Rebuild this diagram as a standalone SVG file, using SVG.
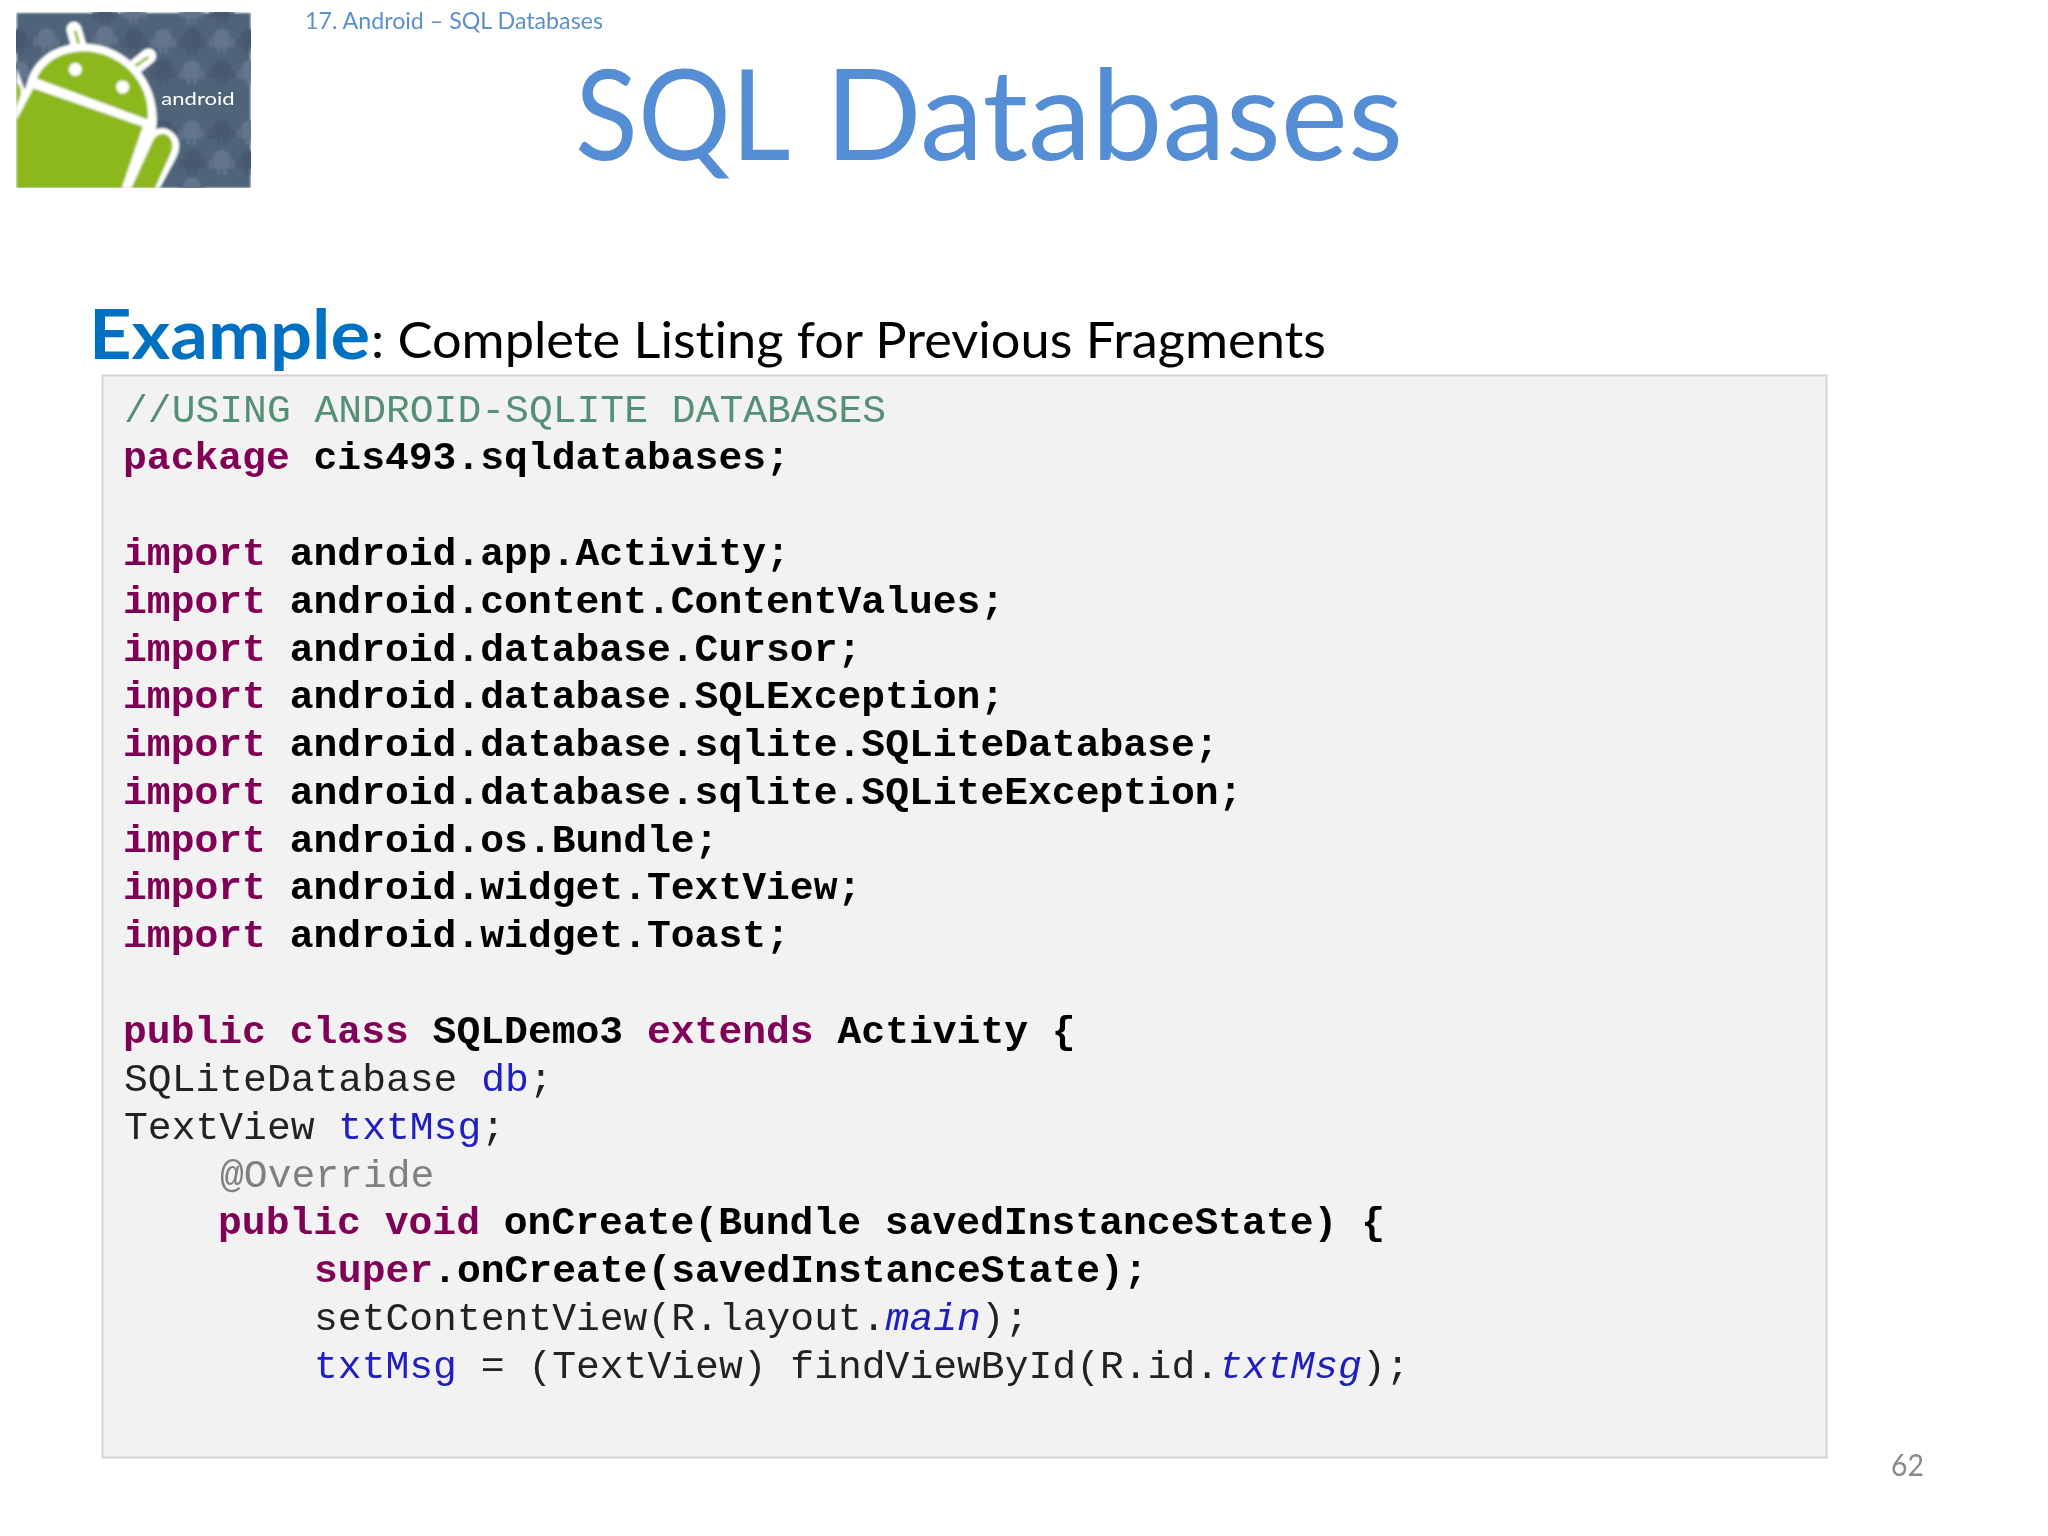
<svg xmlns="http://www.w3.org/2000/svg" width="2048" height="1536" viewBox="0 0 2048 1536">
<style>
text{white-space:pre;font-variant-ligatures:none}
.c{font-family:"Liberation Mono","Courier New",monospace;font-size:39.7px;fill:#222}
.b{font-weight:bold;fill:#000}
.k{font-weight:bold;fill:#7f0055}
.f{fill:#2020c0}
.i{font-style:italic;fill:#2020c0}
.cm{fill:#558f76}
.an{fill:#808080}
.cal{font-family:Lato,"Liberation Sans",sans-serif}
</style>
<defs>
<clipPath id="lc"><rect x="50" y="38" width="702" height="525"/></clipPath>
<g id="g"><path d="M-26 -6A26 26 0 0 1 26 -6V24H14V42H4V24H-4V42H-14V24H-26Z"/><rect x="-37" y="-4" width="8" height="28" rx="4"/><rect x="29" y="-4" width="8" height="28" rx="4"/></g>
<filter id="bl"><feGaussianBlur stdDeviation="2.4"/></filter>
</defs>
<rect width="2048" height="1536" fill="#fff"/>
<g id="logo" transform="scale(.33333)">
<g clip-path="url(#lc)" filter="url(#bl)">
<rect x="50" y="38" width="702" height="525" fill="#506379"/>
<g fill="#63758c">
<use href="#g" x="140" y="115"/><use href="#g" x="315" y="110"/><use href="#g" x="490" y="118"/><use href="#g" x="665" y="118"/><use href="#g" x="575" y="212"/><use href="#g" x="750" y="212"/><use href="#g" x="575" y="392"/><use href="#g" x="750" y="392"/><use href="#g" x="665" y="482"/><use href="#g" x="575" y="565"/><use href="#g" x="400" y="30"/><use href="#g" x="575" y="30"/><use href="#g" x="60" y="215"/>
</g>
<g fill="#46586f">
<use href="#g" x="55" y="118"/><use href="#g" x="402" y="118"/><use href="#g" x="577" y="118"/><use href="#g" x="750" y="118"/><use href="#g" x="490" y="212"/><use href="#g" x="665" y="212"/><use href="#g" x="665" y="392"/><use href="#g" x="577" y="482"/><use href="#g" x="750" y="482"/><use href="#g" x="490" y="392"/><use href="#g" x="315" y="30"/><use href="#g" x="665" y="30"/>
</g>
<path d="M50 205L85 300L50 345Z" fill="#fff"/>
<path d="M50 250C60 255 66 270 60 290L50 320Z" fill="#8db81f"/>
<path d="M240 150L222 88" stroke="#fff" stroke-width="46" stroke-linecap="round"/>
<path d="M400 205L446 168" stroke="#fff" stroke-width="46" stroke-linecap="round"/>
<path d="M242 152L226 95" stroke="#8db81f" stroke-width="8" stroke-linecap="round"/>
<path d="M392 208L442 173" stroke="#8db81f" stroke-width="8" stroke-linecap="round"/>
<path d="M82 245C108 160 190 122 275 132C375 142 478 235 470 375L440 563H50V340Z" fill="#fff"/>
<path d="M110 235C140 175 200 150 270 155C360 165 450 240 443 358Z" fill="#8db81f"/>
<path d="M100 265L428 380L365 563H50V360Z" fill="#8db81f"/>
<circle cx="226" cy="208" r="20" fill="#fff"/><circle cx="368" cy="261" r="20" fill="#fff"/>
<path d="M365 563L445 410C465 375 505 375 530 410C545 435 535 460 525 480L480 563Z" fill="#fff"/>
<path d="M395 563L460 420C475 395 505 395 515 425C520 440 515 455 505 475L465 563Z" fill="#8db81f"/>
</g>
<text id="logo-text" x="484" y="315" font-family="Lato,sans-serif" font-size="50" fill="#fff" textLength="220" lengthAdjust="spacingAndGlyphs">android</text>
</g>
<g id="header">
<text x="305" y="29" class="cal" font-size="23.5" fill="#5b90cc" textLength="298" lengthAdjust="spacingAndGlyphs">17. Android – SQL Databases</text>
<text y="160" class="cal" font-size="126" fill="#558ed5"><tspan x="575" textLength="212" lengthAdjust="spacingAndGlyphs">SQL</tspan> <tspan x="825" textLength="578" lengthAdjust="spacingAndGlyphs">Databases</tspan></text>
<text x="89" y="359" class="cal" font-size="69" font-weight="bold" fill="#0070c0" textLength="281" lengthAdjust="spacingAndGlyphs">Example</text>
<text x="371" y="358" class="cal" font-size="50" fill="#000" textLength="955" lengthAdjust="spacingAndGlyphs">: Complete Listing for Previous Fragments</text>
<text x="1891" y="1476" class="cal" font-size="31" fill="#8a8a8a" textLength="33" lengthAdjust="spacingAndGlyphs">62</text>
</g>
<g id="code">
<rect x="102.500" y="375.500" width="1724" height="1082" fill="#f2f2f2" stroke="#d4d4d4" stroke-width="2"/>
<text class="c" x="124" y="422"><tspan class="cm">//USING ANDROID-SQLITE DATABASES</tspan></text>
<text class="c" x="123" y="469"><tspan class="k">package</tspan><tspan class="b"> cis493.sqldatabases;</tspan></text>
<text class="c" x="123" y="565"><tspan class="k">import</tspan><tspan class="b"> android.app.Activity;</tspan></text>
<text class="c" x="123" y="613"><tspan class="k">import</tspan><tspan class="b"> android.content.ContentValues;</tspan></text>
<text class="c" x="123" y="661"><tspan class="k">import</tspan><tspan class="b"> android.database.Cursor;</tspan></text>
<text class="c" x="123" y="708"><tspan class="k">import</tspan><tspan class="b"> android.database.SQLException;</tspan></text>
<text class="c" x="123" y="756"><tspan class="k">import</tspan><tspan class="b"> android.database.sqlite.SQLiteDatabase;</tspan></text>
<text class="c" x="123" y="804"><tspan class="k">import</tspan><tspan class="b"> android.database.sqlite.SQLiteException;</tspan></text>
<text class="c" x="123" y="852"><tspan class="k">import</tspan><tspan class="b"> android.os.Bundle;</tspan></text>
<text class="c" x="123" y="899"><tspan class="k">import</tspan><tspan class="b"> android.widget.TextView;</tspan></text>
<text class="c" x="123" y="947"><tspan class="k">import</tspan><tspan class="b"> android.widget.Toast;</tspan></text>
<text class="c" x="123" y="1043"><tspan class="k">public class</tspan><tspan class="b"> SQLDemo3 </tspan><tspan class="k">extends</tspan><tspan class="b"> Activity {</tspan></text>
<text class="c" x="124" y="1091">SQLiteDatabase <tspan class="f">db</tspan>;</text>
<text class="c" x="124" y="1139">TextView <tspan class="f">txtMsg</tspan>;</text>
<text class="c" x="220" y="1187"><tspan class="an">@Override</tspan></text>
<text class="c" x="218" y="1234"><tspan class="k">public void</tspan><tspan class="b"> onCreate(Bundle savedInstanceState) {</tspan></text>
<text class="c" x="314" y="1282"><tspan class="k">super</tspan><tspan class="b">.onCreate(savedInstanceState);</tspan></text>
<text class="c" x="314" y="1330">setContentView(R.layout.<tspan class="i">main</tspan>);</text>
<text class="c" x="314" y="1378"><tspan class="f">txtMsg</tspan> = (TextView) findViewById(R.id.<tspan class="i">txtMsg</tspan>);</text>
</g>
</svg>
